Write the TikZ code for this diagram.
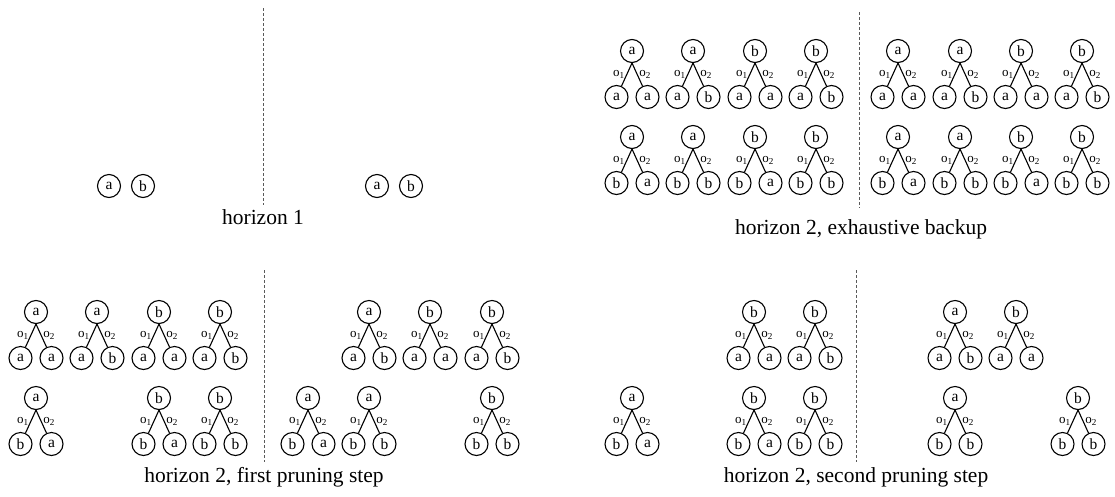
\documentclass[tikz,border=0pt]{standalone}
\usepackage{fontspec}
\setmainfont{Liberation Serif}
\usetikzlibrary{calc}
\tikzset{
  st/.style={circle, draw, line width=1.1pt, minimum size=23pt, inner sep=0pt, font=\fontsize{15.5}{15.5}\selectfont},
  edgeline/.style={line width=1.1pt},
  olab/.style={inner sep=1.5pt, font=\fontsize{13}{13}\selectfont},
  sepline/.style={dash pattern=on 3pt off 2pt, line width=0.8pt, black!65},
  capt/.style={anchor=base, inner sep=0pt, font=\fontsize{21.5}{24}\selectfont}
}
\newcommand{\ptree}[6]{%
  \node[st] (#1r) at (#2,#3) {#4};
  \node[st] (#1l) at (#2-15.5,#3+46) {#5};
  \node[st] (#1g) at (#2+15.5,#3+46) {#6};
  \draw[edgeline] (#1r.south) -- node[olab,left]{o\textsubscript{1}} (#1l);
  \draw[edgeline] (#1r.south) -- node[olab,right]{o\textsubscript{2}} (#1g);
}
\begin{document}
\begin{tikzpicture}[x=1pt,y=-1pt]
\useasboundingbox (0,0) rectangle (1115,496);
% ---------------- top-left: horizon 1
\coordinate (d1a) at (263,8);
\coordinate (d1b) at (263,205);
\draw[sepline] (d1a) -- (d1b);
\node[st] (h1a) at (109,186) {a};
\node[st] (h1b) at (143,186) {b};
\node[st] (h1c) at (377,186) {a};
\node[st] (h1d) at (411,186) {b};
\node[capt] (cap1) at (263,224) {horizon 1};
% ---------------- top-right: exhaustive backup
\coordinate (d2a) at (859,12);
\coordinate (d2b) at (859,208);
\draw[sepline] (d2a) -- (d2b);
\ptree{ea}{632}{51}{a}{a}{a}
\ptree{eb}{693}{51}{a}{a}{b}
\ptree{ec}{755}{51}{b}{a}{a}
\ptree{ed}{816}{51}{b}{a}{b}
\ptree{ee}{632}{137}{a}{b}{a}
\ptree{ef}{693}{137}{a}{b}{b}
\ptree{eg}{755}{137}{b}{b}{a}
\ptree{eh}{816}{137}{b}{b}{b}
\ptree{ei}{898}{51}{a}{a}{a}
\ptree{ej}{960}{51}{a}{a}{b}
\ptree{ek}{1021}{51}{b}{a}{a}
\ptree{el}{1082}{51}{b}{a}{b}
\ptree{em}{898}{137}{a}{b}{a}
\ptree{en}{960}{137}{a}{b}{b}
\ptree{eo}{1021}{137}{b}{b}{a}
\ptree{ep}{1082}{137}{b}{b}{b}
\node[capt] (cap2) at (861,234) {horizon 2, exhaustive backup};
% ---------------- bottom-left: first pruning step
\coordinate (d3a) at (264,270);
\coordinate (d3b) at (264,462);
\draw[sepline] (d3a) -- (d3b);
\ptree{fa}{36}{312}{a}{a}{a}
\ptree{fb}{97}{312}{a}{a}{b}
\ptree{fc}{159}{312}{b}{a}{a}
\ptree{fd}{220}{312}{b}{a}{b}
\ptree{fe}{36}{398}{a}{b}{a}
\ptree{ff}{159}{398}{b}{b}{a}
\ptree{fg}{220}{398}{b}{b}{b}
\ptree{fh}{369}{312}{a}{a}{b}
\ptree{fi}{430}{312}{b}{a}{a}
\ptree{fj}{492}{312}{b}{a}{b}
\ptree{fk}{308}{398}{a}{b}{a}
\ptree{fl}{369}{398}{a}{b}{b}
\ptree{fm}{492}{398}{b}{b}{b}
\node[capt] (cap3) at (264,482) {horizon 2, first pruning step};
% ---------------- bottom-right: second pruning step
\coordinate (d4a) at (856,270);
\coordinate (d4b) at (856,462);
\draw[sepline] (d4a) -- (d4b);
\ptree{sa}{754}{312}{b}{a}{a}
\ptree{sb}{815}{312}{b}{a}{b}
\ptree{sc}{632}{398}{a}{b}{a}
\ptree{sd}{754}{398}{b}{b}{a}
\ptree{se}{815}{398}{b}{b}{b}
\ptree{sf}{955}{312}{a}{a}{b}
\ptree{sg}{1016}{312}{b}{a}{a}
\ptree{sh}{955}{398}{a}{b}{b}
\ptree{si}{1078}{398}{b}{b}{b}
\node[capt] (cap4) at (856,482) {horizon 2, second pruning step};
\end{tikzpicture}
\end{document}
